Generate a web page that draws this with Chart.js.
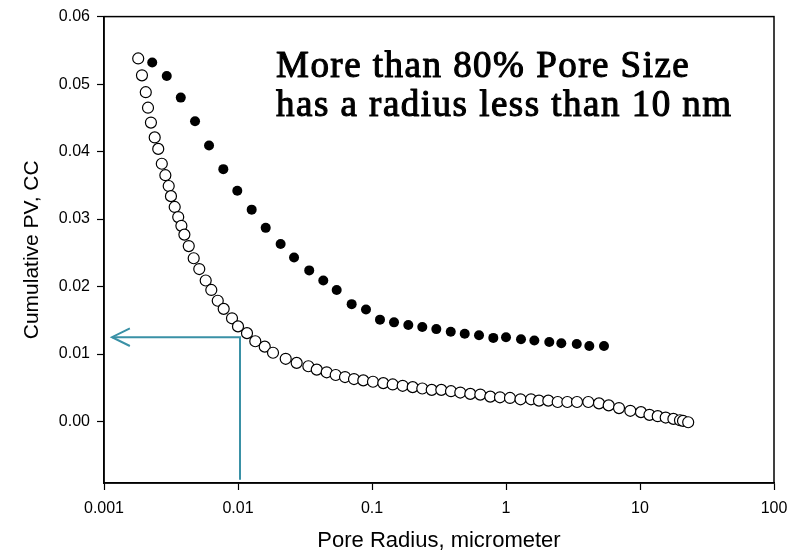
<!DOCTYPE html>
<html>
<head>
<meta charset="utf-8">
<script src="https://cdn.jsdelivr.net/npm/chart.js@4.4.1/dist/chart.umd.min.js"></script>
<style>
  html, body { margin: 0; padding: 0; background: #fff; }
  #wrap { width: 803px; height: 554px; }
</style>
</head>
<body>
<div id="wrap"><canvas id="poreChart" width="803" height="554"></canvas></div>
<script>
// axis ticks
const xTickValues = [0.001, 0.01, 0.1, 1, 10, 100];
const xTickLabels = ['0.001', '0.01', '0.1', '1', '10', '100'];
const yTickValues = [0, 0.01, 0.02, 0.03, 0.04, 0.05, 0.06];
const yTickLabels = ['0.00', '0.01', '0.02', '0.03', '0.04', '0.05', '0.06'];

// filled circles
const filledRadius = [0.00229, 0.00294, 0.00374, 0.00478, 0.00608, 0.00777, 0.00988, 0.01265, 0.0161, 0.0208,
  0.0262, 0.0340, 0.0433, 0.0545, 0.0705, 0.0902, 0.1147, 0.146, 0.1866, 0.2373,
  0.302, 0.387, 0.492, 0.629, 0.804, 1.0, 1.294, 1.627, 2.104, 2.587,
  3.372, 4.186, 5.387];
const filledVolume = [0.0532, 0.0512, 0.0480, 0.0445, 0.0409, 0.0374, 0.0342, 0.0314, 0.0287, 0.0263,
  0.0243, 0.0224, 0.0209, 0.0195, 0.0174, 0.0166, 0.0151, 0.0147, 0.0143, 0.0140,
  0.0137, 0.0133, 0.0130, 0.0128, 0.0124, 0.0125, 0.0122, 0.0120, 0.0118, 0.0116,
  0.0115, 0.0112, 0.0112];

// open circles
const openRadius = [0.00180, 0.00192, 0.00205, 0.00213, 0.00224, 0.00239, 0.00254, 0.00270, 0.00287, 0.00304,
  0.00316, 0.00337, 0.00358, 0.00378, 0.00398, 0.00429, 0.00467, 0.00514, 0.00574, 0.00632,
  0.00706, 0.00782, 0.00902, 0.0100, 0.01167, 0.01346, 0.01583, 0.01825, 0.0227, 0.0274,
  0.0335, 0.0387, 0.0459, 0.0536, 0.0629, 0.0734, 0.0861, 0.1017, 0.1214, 0.1427,
  0.1694, 0.2012, 0.2373, 0.2790, 0.3290, 0.3887, 0.4560, 0.5416, 0.6431, 0.7636,
  0.902, 1.071, 1.283, 1.537, 1.763, 2.069, 2.431, 2.868, 3.388, 4.113,
  4.943, 5.840, 6.97, 8.465, 10.17, 11.77, 13.56, 15.55, 17.75, 19.88,
  20.94, 22.89];
const openVolume = [0.0538, 0.0513, 0.0488, 0.0465, 0.0443, 0.0421, 0.0404, 0.0382, 0.0365, 0.0349,
  0.0334, 0.0318, 0.0303, 0.0290, 0.0277, 0.0260, 0.0242, 0.0226, 0.0209, 0.0195,
  0.0179, 0.0167, 0.0153, 0.0141, 0.0131, 0.0119, 0.0111, 0.0102, 0.0093, 0.0087,
  0.0082, 0.0077, 0.0073, 0.0069, 0.0066, 0.0063, 0.0061, 0.0059, 0.0057, 0.0055,
  0.0053, 0.0051, 0.0049, 0.0047, 0.0047, 0.0045, 0.0043, 0.0041, 0.0040, 0.0037,
  0.0036, 0.0035, 0.0033, 0.0033, 0.0031, 0.0031, 0.0029, 0.0029, 0.0029, 0.0029,
  0.0027, 0.0024, 0.0020, 0.0016, 0.0014, 0.0010, 0.0008, 0.0006, 0.0004, 0.0002,
  0.0001, -0.0001];

// the teal arrow at 10 nm
const arrowX = [0.01035, 0.01035, 0.001147];
const arrowY = [-0.0086, 0.0125, 0.0125];
const headX = [0.00156, 0.001147, 0.00156];
const headY = [0.0138, 0.0125, 0.0112];

const noteLines = ['More than 80% Pore Size', 'has a radius less than 10 nm'];
const xTitle = 'Pore Radius, micrometer';
const yTitle = 'Cumulative PV, CC';

const toPoints = (xs, ys) => xs.map((x, i) => ({ x: x, y: ys[i] }));
const arrowColor = '#3a91a6';
const sans = '"Liberation Sans", Arial, sans-serif';

// frame around the plot + the note text
const framePlugin = {
    id: 'frame',
    beforeDatasetsDraw(chart) {
        const { ctx, chartArea: a } = chart;
        ctx.save();
        ctx.strokeStyle = '#000';
        ctx.lineWidth = 1.5;
        ctx.strokeRect(a.left, a.top, a.right - a.left, a.bottom - a.top);
        ctx.restore();
    },
    afterDatasetsDraw(chart) {
        const { ctx } = chart;
        ctx.save();
        ctx.font = '37px "Liberation Serif"';
        const w = ctx.measureText(noteLines[1]).width;
        // spread letters a bit so the second line is as wide as in the original
        const gap = Math.max(0, (455 - w) / (noteLines[1].length - 1));
        ctx.letterSpacing = gap.toFixed(2) + 'px';
        ctx.fillStyle = '#000';
        ctx.strokeStyle = '#000';
        ctx.lineWidth = 1.1;
        ctx.lineJoin = 'round';
        ctx.textBaseline = 'alphabetic';
        ctx.fillText(noteLines[0], 276, 77);
        ctx.strokeText(noteLines[0], 276, 77);
        ctx.fillText(noteLines[1], 276, 116);
        ctx.strokeText(noteLines[1], 276, 116);
        ctx.restore();
    }
};

const ctx = document.getElementById('poreChart').getContext('2d');
new Chart(ctx, {
    type: 'scatter',
    data: {
        datasets: [
            {
                data: toPoints(arrowX, arrowY),
                showLine: true,
                borderColor: arrowColor,
                borderWidth: 2,
                pointRadius: 0,
                order: 3
            },
            {
                data: toPoints(headX, headY),
                showLine: true,
                borderColor: arrowColor,
                borderWidth: 2,
                pointRadius: 0,
                order: 3
            },
            {
                data: toPoints(openRadius, openVolume),
                pointRadius: 5.5,
                pointBackgroundColor: '#fff',
                pointBorderColor: '#000',
                pointBorderWidth: 1.2,
                order: 1
            },
            {
                data: toPoints(filledRadius, filledVolume),
                pointRadius: 5,
                pointBackgroundColor: '#000',
                pointBorderColor: '#000',
                pointBorderWidth: 0,
                order: 2
            }
        ]
    },
    options: {
        responsive: false,
        animation: false,
        layout: { padding: { top: 14, right: 29, left: 0, bottom: 0 } },
        plugins: {
            legend: { display: false },
            tooltip: { enabled: false }
        },
        scales: {
            x: {
                type: 'logarithmic',
                min: 0.001,
                max: 100,
                afterBuildTicks: axis => {
                    axis.ticks = xTickValues.map(v => ({ value: v, major: true }));
                },
                afterFit: axis => { axis.height = 71; },
                grid: {
                    drawOnChartArea: false,
                    drawTicks: true,
                    tickLength: 7,
                    tickColor: '#000',
                    tickWidth: 1.2
                },
                border: { display: true, color: '#000', width: 1.5 },
                ticks: {
                    color: '#000',
                    padding: 9,
                    maxRotation: 0,
                    autoSkip: false,
                    font: { family: sans, size: 16 },
                    callback: (v, i) => xTickLabels[i]
                },
                title: {
                    display: true,
                    text: xTitle,
                    color: '#000',
                    font: { family: sans, size: 22 },
                    padding: { top: 0, bottom: 0 }
                }
            },
            y: {
                min: -0.0091,
                max: 0.06,
                afterBuildTicks: axis => {
                    axis.ticks = yTickValues.map(v => ({ value: v }));
                },
                afterFit: axis => { axis.width = 104; },
                grid: {
                    drawOnChartArea: false,
                    drawTicks: true,
                    tickLength: 7,
                    tickColor: '#000',
                    tickWidth: 1.2
                },
                border: { display: true, color: '#000', width: 1.5 },
                ticks: {
                    color: '#000',
                    padding: 7,
                    font: { family: sans, size: 16 },
                    callback: (v, i) => yTickLabels[i]
                },
                title: {
                    display: true,
                    text: yTitle,
                    color: '#000',
                    font: { family: sans, size: 21 },
                    padding: { top: 20, bottom: 0 }
                }
            }
        }
    },
    plugins: [framePlugin]
});
</script>
</body>
</html>
